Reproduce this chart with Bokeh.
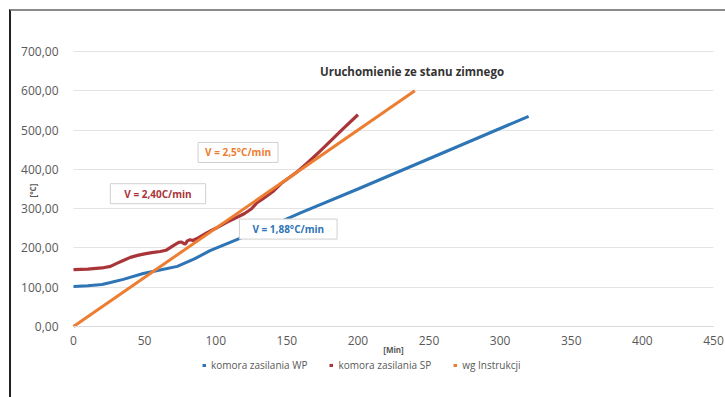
from bokeh.plotting import figure
from bokeh.models import Label, Legend, LegendItem, FixedTicker, Range1d
from bokeh.embed import file_html
from bokeh.resources import INLINE

# ---- data ----
wp_x = [0, 10, 20, 26, 35, 49, 60, 73, 85, 96, 108, 120, 140, 160, 200, 250, 320]
wp_y = [102, 104, 107, 112, 120, 135, 143, 153, 172, 193, 211, 229, 258, 290, 350, 427, 535]

sp_x = [0, 10, 20, 26, 30, 35, 40, 45, 50, 55, 61, 65, 68, 71, 74, 76, 78, 79, 80, 82, 84, 88,
        94, 100, 108, 115, 120, 125, 129, 133, 140, 146, 152, 157, 165, 173, 181, 190, 200]
sp_y = [145, 146, 149, 153, 160, 168, 176, 181, 185, 188, 191, 194, 201, 208, 214, 215, 210, 211,
        218, 221, 219, 226, 239, 250, 266, 278, 287, 299, 315, 325, 343, 364, 380, 393, 418, 445,
        473, 505, 539]

instr_x = [0, 240]
instr_y = [0, 600]

series_names = ["komora zasilania WP", "komora zasilania SP", "wg Instrukcji"]
x_ticks = [0, 50, 100, 150, 200, 250, 300, 350, 400, 450]
y_ticks = [0, 100, 200, 300, 400, 500, 600, 700]
y_tick_labels = ["0,00", "100,00", "200,00", "300,00", "400,00", "500,00", "600,00", "700,00"]

title_text = "Uruchomienie ze stanu zimnego"
x_title = "[Min]"
y_title = "[°C]"
rate_labels = ["V = 2,5°C/min", "V = 2,40C/min", "V = 1,88°C/min"]

BLUE = "#2E75B6"
RED = "#A93539"
ORANGE = "#ED7D31"
GRAY = "#595959"
GRID = "#e3e3e3"
FONT = "Open Sans"

# Plot area is 640 x 275 px for x 0..450 and y 0..700.  The frame is extended
# around it (62 px left, 12 px right, 40 px above, 71 px below) so that the axes
# (fixed at 0), axis titles and legend are all drawn inside one frame.
PX_X = 640 / 450
PX_Y = 275 / 700
X_MIN = -62 / PX_X
X_MAX = 450 + 12 / PX_X
Y_MIN = -71 / PX_Y
Y_MAX = 700 + 40 / PX_Y

p = figure(title=None, output_backend="svg", toolbar_location=None,
           x_range=Range1d(X_MIN, X_MAX), y_range=Range1d(Y_MIN, Y_MAX),
           min_border_left=0, min_border_right=0, min_border_top=0, min_border_bottom=0)
p.frame_width = 714
p.frame_height = 386
p.outline_line_color = None
p.background_fill_color = "white"
p.border_fill_color = "white"
p.styles = {"margin-left": "9px", "margin-top": "9px",
            "border-top": "2px solid #8a8a8a", "border-left": "2px solid #222222"}

# horizontal gridlines limited to the plot area
p.xgrid.grid_line_color = None
g = p.ygrid[0]
if "cross_bounds" in g.properties():
    g.cross_bounds = (x_ticks[0], x_ticks[-1])
    g.grid_line_color = GRID
else:
    g.grid_line_color = None
    p.segment(x0=[x_ticks[0]] * len(y_ticks), x1=[x_ticks[-1]] * len(y_ticks),
              y0=y_ticks, y1=y_ticks, line_color=GRID, line_width=1)

r_wp = p.line(wp_x, wp_y, line_color=BLUE, line_width=3)
r_sp = p.line(sp_x, sp_y, line_color=RED, line_width=3.2)
r_in = p.line(instr_x, instr_y, line_color=ORANGE, line_width=3)

# axes, fixed at 0
p.xaxis.ticker = FixedTicker(ticks=x_ticks)
p.yaxis.ticker = FixedTicker(ticks=y_ticks)
p.yaxis.major_label_overrides = {t: l for t, l in zip(y_ticks, y_tick_labels)}
for ax in (p.xaxis, p.yaxis):
    ax.major_tick_line_color = None
    ax.minor_tick_line_color = None
    ax.major_label_text_font = FONT
    ax.major_label_text_font_size = "12px"
    ax.major_label_text_color = GRAY
p.yaxis.fixed_location = 0
p.yaxis.bounds = (y_ticks[0], y_ticks[-1])
p.yaxis.axis_line_color = None
p.yaxis.major_label_standoff = 9

p.xaxis.fixed_location = 0
p.xaxis.bounds = (x_ticks[0], x_ticks[-1])
p.xaxis.axis_line_color = "#d9d9d9"
p.xaxis.major_label_standoff = 3

# axis titles
p.add_layout(Label(x=225, y=-58, text=x_title, text_align="center", text_baseline="middle",
                   text_font=FONT, text_font_size="8px", text_font_style="bold",
                   text_color=GRAY))
p.add_layout(Label(x=-29, y=346, text=y_title, angle=90, angle_units="deg",
                   text_align="center", text_baseline="middle", text_font=FONT,
                   text_font_size="8px", text_font_style="bold", text_color=GRAY))

# title inside the plot
p.add_layout(Label(x=238, y=649, text=title_text, text_align="center", text_baseline="middle",
                   text_font=FONT, text_font_size="11.5px", text_font_style="bold",
                   text_color="#333333"))

# rate boxes
for (lx, ly, txt, col, padx) in [(115.7, 443, rate_labels[0], ORANGE, 7),
                                 (59.4, 338, rate_labels[1], RED, 14),
                                 (151, 248, rate_labels[2], BLUE, 13)]:
    p.add_layout(Label(x=lx, y=ly, text=txt, text_align="center", text_baseline="middle",
                       text_font=FONT, text_font_size="10px", text_font_style="bold",
                       text_color=col, border_line_color="#d0d0d0", border_line_width=1,
                       background_fill_color="white",
                       padding={"left": padx, "right": padx, "top": 3, "bottom": 3}))

legend = Legend(items=[LegendItem(label=series_names[0], renderers=[r_wp]),
                       LegendItem(label=series_names[1], renderers=[r_sp]),
                       LegendItem(label=series_names[2], renderers=[r_in])],
                orientation="horizontal", location=(191, 25),
                glyph_width=4, glyph_height=4, label_standoff=5, spacing=22,
                label_text_font=FONT, label_text_font_size="10px", label_text_color=GRAY,
                border_line_color=None, background_fill_alpha=0, padding=0, margin=0)
p.add_layout(legend, "center")

open("out.html", "w").write(file_html(p, INLINE))
